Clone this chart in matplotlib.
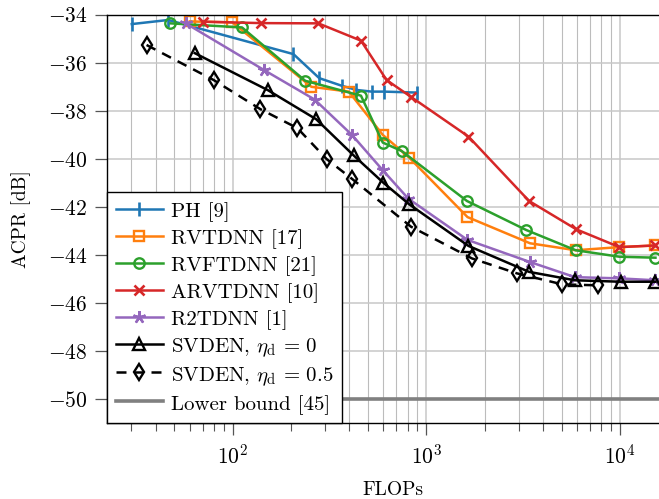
import matplotlib
matplotlib.use("Agg")
import matplotlib.pyplot as plt
from matplotlib.ticker import LogLocator, NullFormatter

plt.rcParams['font.family'] = 'serif'
plt.rcParams['font.serif'] = ['cmr10', 'DejaVu Serif']
plt.rcParams['mathtext.fontset'] = 'cm'
plt.rcParams['axes.formatter.use_mathtext'] = True

# ---- data ----
ph_x = [30.1, 46.4, 206, 280, 367, 436, 522, 603, 896]
ph_y = [-34.39, -34.22, -35.64, -36.64, -36.96, -37.13, -37.2, -37.2, -37.24]

rvtdnn_x = [60.0, 99.6, 255, 398, 596, 817, 1633, 3436, 5912, 9955, 15280]
rvtdnn_y = [-34.28, -34.32, -37.0, -37.2, -39.0, -39.95, -42.42, -43.51, -43.8, -43.67, -43.6]

rvftdnn_x = [47.7, 111.7, 237, 460, 596, 746, 1622, 3288, 5912, 9955, 15280]
rvftdnn_y = [-34.36, -34.53, -36.75, -37.37, -39.32, -39.67, -41.75, -42.96, -43.8, -44.07, -44.11]

arvtdnn_x = [70.3, 140.6, 277, 460, 624, 834, 1652, 3397, 5957, 9955, 15280]
arvtdnn_y = [-34.29, -34.35, -34.36, -35.08, -36.72, -37.42, -39.07, -41.75, -42.93, -43.67, -43.6]

r2tdnn_x = [57.2, 145, 265, 414, 596, 807, 1633, 3436, 5865, 9955, 15280]
r2tdnn_y = [-34.36, -36.3, -37.53, -39.01, -40.47, -41.65, -43.37, -44.29, -44.92, -44.97, -45.05]

svden0_x = [63.7, 152, 270, 421, 600, 817, 1652, 3397, 5865, 10096, 15280]
svden0_y = [-35.6, -37.14, -38.35, -39.85, -40.99, -41.89, -43.62, -44.7, -45.05, -45.11, -45.11]

svden05_x = [35.9, 79.8, 139, 216, 306, 412, 834, 1722, 2935, 5047, 7724]
svden05_y = [-35.26, -36.72, -37.93, -38.72, -40.01, -40.82, -42.82, -44.14, -44.76, -45.22, -45.26]

lower_bound = -50.0

labels = ['PH [9]', 'RVTDNN [17]', 'RVFTDNN [21]', 'ARVTDNN [10]', 'R2TDNN [1]',
          r'SVDEN, $\eta_{\mathrm{d}}\,=\,0$', r'SVDEN, $\eta_{\mathrm{d}}\,=\,0.5$',
          'Lower bound [45]']
yticks = [-50, -48, -46, -44, -42, -40, -38, -36, -34]

# ---- figure ----
W, H = 659, 499
fig = plt.figure(figsize=(W / 100, H / 100), dpi=100)
x0, x1 = 107.3, 678.1
y0, y1 = 14.7, 423.3
ax = fig.add_axes([x0 / W, 1 - y1 / H, (x1 - x0) / W, (y1 - y0) / H])

lw = 1.8
ax.plot(ph_x, ph_y, color='#1f77b4', lw=lw, marker='|', ms=10, mew=1.9, label=labels[0])
ax.plot(rvtdnn_x, rvtdnn_y, color='#ff7f0e', lw=lw, marker='s', ms=7.5, mew=1.7,
        mfc='none', label=labels[1])
ax.plot(rvftdnn_x, rvftdnn_y, color='#2ca02c', lw=lw, marker='o', ms=7.5, mew=1.7,
        mfc='none', label=labels[2])
ax.plot(arvtdnn_x, arvtdnn_y, color='#d62728', lw=lw, marker='x', ms=7.5, mew=1.9,
        label=labels[3])
ax.plot(r2tdnn_x, r2tdnn_y, color='#9467bd', lw=lw, marker=(5, 2, 0), ms=9, mew=1.7,
        label=labels[4])
ax.plot(svden0_x, svden0_y, color='black', lw=lw, marker='^', ms=8.5, mew=1.7,
        mfc='none', label=labels[5])
ax.plot(svden05_x, svden05_y, color='black', lw=lw, ls=(0, (4, 3)), marker='d', ms=8.5,
        mew=1.7, mfc='none', label=labels[6])
ax.axhline(lower_bound, color='#808080', lw=2.6, label=labels[7])

ax.set_xscale('log')
ax.set_xlim(22.5, 2e4)
ax.set_ylim(-51, -34)
ax.set_yticks(yticks)
ax.xaxis.set_major_locator(LogLocator(base=10, numticks=10))
ax.xaxis.set_minor_locator(LogLocator(base=10, subs=range(2, 10), numticks=100))
ax.xaxis.set_minor_formatter(NullFormatter())

ax.set_axisbelow(True)
ax.grid(True, which='major', color='#c8c8c8', lw=1.1)
ax.grid(True, which='minor', axis='x', color='#bcbcbc', lw=0.8)

ax.tick_params(which='major', direction='out', length=8.5, width=0.9, color='#555555',
               labelsize=15.5)
ax.tick_params(which='minor', direction='out', length=5.5, width=0.8, color='#555555')
ax.tick_params(axis='y', which='major', pad=6)
ax.tick_params(axis='x', which='major', pad=6)
for s in ['top', 'left', 'bottom', 'right']:
    ax.spines[s].set_linewidth(1.0)
    ax.spines[s].set_color('black')

ax.set_xlabel('FLOPs', fontsize=14, labelpad=10)
ax.set_ylabel('ACPR [dB]', fontsize=14, labelpad=12)

leg = ax.legend(loc='lower left', bbox_to_anchor=(0, 0), borderaxespad=0,
                fancybox=False, edgecolor='black', framealpha=1, fontsize=15,
                handlelength=2.25, handletextpad=0.4, handleheight=1.17,
                labelspacing=0.22, borderpad=0.4)
leg.get_frame().set_linewidth(1.0)

fig.savefig('out.png', dpi=100)
